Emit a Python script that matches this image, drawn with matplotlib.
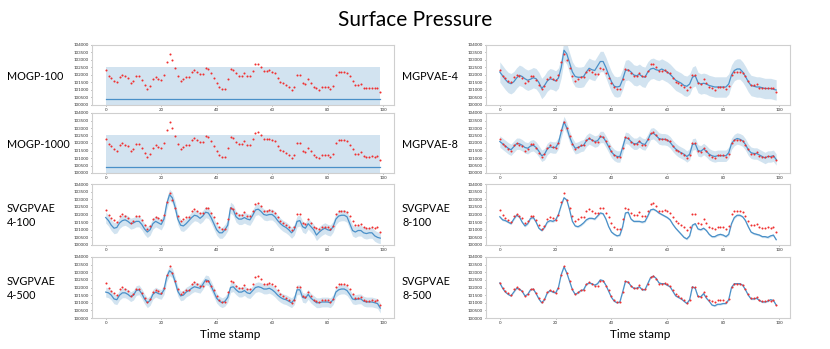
import matplotlib
matplotlib.use("Agg")
import matplotlib.pyplot as plt
import numpy as np

plt.rcParams['font.family'] = ['Lato', 'DejaVu Sans']

t = list(range(100))

truth = [102300, 101950, 101780, 101620, 101500, 101880, 102030, 101900, 101800, 101450,
         101580, 101930, 101930, 101650, 101330, 101050, 101250, 101700, 101850, 101750,
         101650, 101980, 102850, 103400, 102970, 102450, 101930, 101600, 101730, 101840,
         101840, 102220, 102330, 102200, 102070, 102070, 102450, 102420, 102130, 101820,
         101440, 101200, 101050, 101050, 101700, 102420, 102350, 102100, 101960, 101950,
         102150, 101900, 101900, 102250, 102700, 102730, 102550, 102250, 102250, 102300,
         102220, 102130, 101820, 101550, 101440, 101330, 101200, 101000, 101170, 102030,
         102030, 101440, 101380, 101700, 101440, 101200, 101100, 101020, 101170, 101170,
         101170, 101050, 101250, 102030, 102230, 102230, 102230, 102150, 101900, 101580,
         101300, 101300, 101380, 101150, 101100, 101100, 101150, 101100, 101150, 100880]

mogp100_mean = [100420] * 100
mogp1000_mean = [100400] * 100

mgpvae4_mean = [102200, 101950, 101700, 101500, 101420, 101550, 101800, 101980, 101900, 101750,
                101650, 101720, 101820, 101750, 101500, 101100, 101300, 101600, 101750, 101700,
                101600, 101800, 102500, 103650, 103400, 102800, 102200, 101900, 101850, 101850,
                101900, 102200, 102450, 102350, 102300, 102600, 102900, 102900, 102500, 102000,
                101550, 101250, 101200, 101250, 101700, 102300, 102350, 102200, 102000, 101950,
                102050, 101900, 101850, 102200, 102400, 102450, 102350, 102300, 102400, 102300,
                102200, 102050, 101850, 101650, 101550, 101450, 101300, 101250, 101400, 101850,
                101950, 101500, 101400, 101450, 101400, 101300, 101250, 101200, 101200, 101200,
                101200, 101200, 101400, 102000, 102300, 102400, 102400, 102200, 101900, 101550,
                101300, 101250, 101200, 101200, 101150, 101100, 101100, 101100, 101050, 101000]

mgpvae8_mean = [102100, 101950, 101800, 101650, 101550, 101750, 101950, 101950, 101850, 101700,
                101650, 101800, 101850, 101700, 101450, 101150, 101250, 101600, 101750, 101700,
                101700, 102000, 102750, 103400, 103000, 102400, 101950, 101650, 101700, 101800,
                101850, 102150, 102300, 102200, 102100, 102150, 102400, 102400, 102100, 101750,
                101400, 101200, 101100, 101100, 101700, 102350, 102300, 102100, 101950, 101950,
                102100, 101950, 101900, 102200, 102600, 102650, 102500, 102300, 102250, 102250,
                102200, 102050, 101800, 101600, 101450, 101350, 101250, 101100, 101250, 101900,
                101950, 101500, 101450, 101600, 101450, 101250, 101150, 101100, 101150, 101150,
                101150, 101150, 101350, 101950, 102200, 102300, 102250, 102150, 101900, 101550,
                101350, 101300, 101300, 101200, 101100, 101000, 101100, 101100, 101150, 100900]

svgp4_100_mean = [101800, 101600, 101300, 101100, 101150, 101450, 101600, 101650, 101550, 101400,
                  101450, 101550, 101550, 101350, 101050, 100850, 101000, 101400, 101550, 101450,
                  101350, 101700, 102700, 103300, 103100, 102500, 101700, 101300, 101250, 101400,
                  101600, 101800, 101950, 101900, 101750, 101900, 102150, 102100, 101800, 101400,
                  101000, 100800, 100800, 101000, 101300, 102450, 102300, 101850, 101700, 101700,
                  101800, 101700, 101650, 101950, 102300, 102350, 102200, 102000, 101950, 102000,
                  102000, 101850, 101600, 101400, 101250, 101150, 101000, 100800, 101000, 101550,
                  101600, 101200, 101100, 101400, 101200, 101000, 100650, 100850, 101000, 101100,
                  101000, 100950, 101200, 101700, 101900, 101950, 101950, 101850, 101400, 100950,
                  100850, 100950, 100950, 100800, 100750, 100800, 100800, 100600, 100500, 100450]

svgp4_500_mean = [101700, 101650, 101500, 101250, 101200, 101500, 101650, 101650, 101550, 101400,
                  101500, 101800, 101850, 101600, 101250, 101000, 101150, 101550, 101700, 101600,
                  101550, 101850, 102700, 103100, 102950, 102400, 101750, 101450, 101500, 101700,
                  101800, 101950, 102050, 102000, 101950, 102200, 102500, 102450, 102100, 101700,
                  101300, 101100, 101000, 101100, 101350, 102000, 102050, 101850, 101700, 101700,
                  101800, 101650, 101600, 101800, 102000, 102050, 102000, 101900, 101900, 101950,
                  101850, 101700, 101500, 101350, 101250, 101200, 101100, 101000, 101200, 101850,
                  101850, 101350, 101300, 101550, 101300, 101150, 101000, 101000, 101050, 101050,
                  101050, 101000, 101200, 101700, 101850, 101900, 101900, 101800, 101550, 101250,
                  101200, 101250, 101250, 101100, 101050, 101050, 101050, 101000, 100950, 100650]

svgp8_100_mean = [101850, 101650, 101600, 101500, 101400, 101700, 101950, 101850, 101500, 101250,
                  101400, 101750, 101800, 101500, 101100, 100950, 101150, 101500, 101600, 101550,
                  101650, 102000, 102600, 103100, 102950, 102300, 101550, 101250, 101200, 101300,
                  101450, 101650, 101750, 101750, 101700, 101900, 102100, 102050, 101700, 101200,
                  100850, 100700, 100600, 100650, 101200, 102100, 102150, 101700, 101550, 101550,
                  101550, 101500, 101550, 101900, 102300, 102350, 102250, 102100, 102000, 101900,
                  101800, 101650, 101350, 101100, 100900, 100700, 100500, 100400, 100600, 101300,
                  101400, 101050, 101000, 101100, 100950, 100700, 100550, 100550, 100650, 100700,
                  100650, 100550, 100700, 101400, 101800, 101950, 101950, 101850, 101600, 101200,
                  100850, 100750, 100700, 100650, 100550, 100550, 100500, 100600, 100650, 100350]

svgp8_500_mean = [102300, 101950, 101700, 101550, 101450, 101700, 101950, 101900, 101750, 101450,
                  101550, 101850, 101900, 101600, 101250, 101000, 101200, 101650, 101800, 101700,
                  101650, 102000, 102850, 103350, 102950, 102400, 101850, 101550, 101650, 101800,
                  101850, 102200, 102300, 102250, 102150, 102250, 102500, 102450, 102150, 101750,
                  101350, 101100, 101000, 101050, 101700, 102400, 102350, 102100, 101950, 101950,
                  102050, 101850, 101850, 102250, 102650, 102750, 102600, 102300, 102250, 102250,
                  102150, 102050, 101750, 101450, 101350, 101250, 101100, 100950, 101200, 102050,
                  101950, 101400, 101400, 101600, 101300, 101100, 100850, 100800, 100900, 100900,
                  100950, 100950, 101200, 102000, 102250, 102250, 102250, 102150, 101850, 101500,
                  101250, 101250, 101300, 101150, 101050, 101050, 101100, 101200, 101150, 100850]

# half-width of the shaded uncertainty band for each model
band_halfwidth = {
    "MOGP-100": 2130, "MOGP-1000": 2150, "MGPVAE-4": 680, "MGPVAE-8": 380,
    "SVGPVAE\n4-100": 360, "SVGPVAE\n4-500": 320, "SVGPVAE\n8-100": 70, "SVGPVAE\n8-500": 55,
}

models = [
    ("MOGP-100", mogp100_mean), ("MGPVAE-4", mgpvae4_mean),
    ("MOGP-1000", mogp1000_mean), ("MGPVAE-8", mgpvae8_mean),
    ("SVGPVAE\n4-100", svgp4_100_mean), ("SVGPVAE\n8-100", svgp8_100_mean),
    ("SVGPVAE\n4-500", svgp4_500_mean), ("SVGPVAE\n8-500", svgp8_500_mean),
]

W, H = 830, 349
fig = plt.figure(figsize=(W / 100, H / 100), dpi=100)

col_x = [(92, 394), (486, 790)]
row_y = [(45, 105), (113, 173), (184, 245), (257, 318)]
label_x = [7, 402]

for i, (name, mean) in enumerate(models):
    r, c = divmod(i, 2)
    x0, x1 = col_x[c]
    y0, y1 = row_y[r]
    ax = fig.add_axes([x0 / W, 1 - y1 / H, (x1 - x0) / W, (y1 - y0) / H])
    m = np.array(mean, dtype=float)
    hw = band_halfwidth[name]
    ax.fill_between(t, m - hw, m + hw, color='#1f77b4', alpha=0.2, linewidth=0)
    ax.plot(t, m, color='#4a90c8', linewidth=0.9)
    ax.scatter(t, truth, s=2.2, color='#f03030', zorder=3, linewidths=0)
    ax.set_ylim(100000, 104000)
    ax.set_xlim(-4.95, 103.95)
    ax.set_yticks(np.arange(100000, 104001, 500))
    ax.set_xticks([0, 20, 40, 60, 80, 100])
    ax.tick_params(labelsize=3.2, length=1, width=0.4, pad=1, colors='#333333')
    for s in ax.spines.values():
        s.set_color('#cfcfcf')
        s.set_linewidth(0.8)
    ly = (y0 + y1) / 2 + 1
    fig.text(label_x[c] / W, 1 - ly / H, name, fontsize=7.8, va='center', ha='left',
             linespacing=1.3)

fig.text(0.5, 1 - 20 / H, "Surface Pressure", fontsize=15, ha='center', va='center')
fig.text(230 / W, 1 - 335 / H, "Time stamp", fontsize=8.5, ha='center', va='center')
fig.text(640 / W, 1 - 335 / H, "Time stamp", fontsize=8.5, ha='center', va='center')

fig.savefig("out.png", dpi=100)
